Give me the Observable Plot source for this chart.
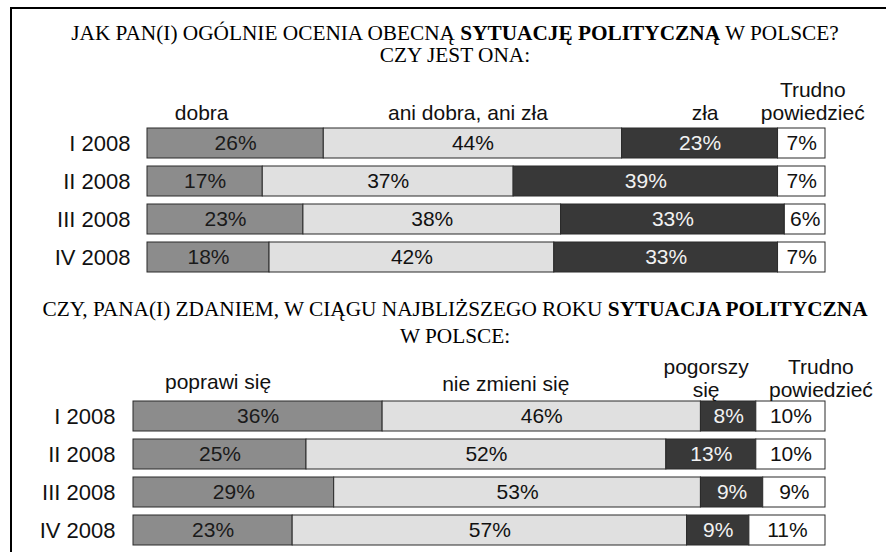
<!DOCTYPE html>
<html><head><meta charset="utf-8">
<script src="https://cdn.jsdelivr.net/npm/d3@7"></script>
<script src="https://cdn.jsdelivr.net/npm/@observablehq/plot@0.6"></script>
<style>
body{margin:0;background:#fff;}
#wrap{position:relative;width:886px;height:552px;overflow:hidden;background:#fff;}
#frame{position:absolute;left:10px;top:7px;width:900px;height:600px;border-left:2px solid #000;border-top:2px solid #000;}
.t{position:absolute;left:12px;width:886px;text-align:center;font-family:"Liberation Serif","Times New Roman",serif;font-size:21.3px;line-height:22px;color:#000;white-space:nowrap;}
.p{position:absolute;left:0;}
</style></head><body>
<div id="wrap">
  <div id="frame"></div>
  <div class="t" style="top:22px">JAK PAN(I) OGÓLNIE OCENIA OBECNĄ <b>SYTUACJĘ POLITYCZNĄ</b> W POLSCE?</div>
  <div class="t" style="top:44px">CZY JEST ONA:</div>
  <div class="p" id="c1" style="top:70px"></div>
  <div class="t" style="top:298px">CZY, PANA(I) ZDANIEM, W CIĄGU NAJBLIŻSZEGO ROKU <b>SYTUACJA POLITYCZNA</b></div>
  <div class="t" style="top:325px">W POLSCE:</div>
  <div class="p" id="c2" style="top:340px"></div>
</div>
<script>
const rows = ["I 2008", "II 2008", "III 2008", "IV 2008"];

const cats1 = ["dobra", "ani dobra, ani zła", "zła", "Trudno powiedzieć"];
const headers1 = ["dobra", "ani dobra, ani zła", "zła", "Trudno\npowiedzieć"];
const dobra = [26, 17, 23, 18];
const aniDobraAniZla = [44, 37, 38, 42];
const zla = [23, 39, 33, 33];
const trudno1 = [7, 7, 6, 7];

const cats2 = ["poprawi się", "nie zmieni się", "pogorszy się", "Trudno powiedzieć"];
const headers2 = ["poprawi się", "nie zmieni się", "pogorszy\nsię", "Trudno\npowiedzieć"];
const poprawi = [36, 25, 29, 23];
const nieZmieni = [46, 52, 53, 57];
const pogorszy = [8, 13, 9, 9];
const trudno2 = [10, 10, 9, 11];

const fills = ["#8c8c8c", "#e0e0e0", "#383838", "#ffffff"];
const textFills = ["#1a1a1a", "#111111", "#f2f2f2", "#111111"];

function chart(series, cats, headers, o) {
  const data = [];
  rows.forEach((r, i) => {
    let acc = 0;
    cats.forEach((c, j) => {
      const v = series[j][i];
      data.push({row: r, cat: c, j, value: v, x1: acc, x2: acc + v});
      acc += v;
    });
  });
  const first = data.filter(d => d.row === rows[0]);
  const marks = [
    Plot.barX(data, {x1: "x1", x2: "x2", y: "row", fill: "cat", stroke: "#2a2a2a", strokeWidth: 1}),
    Plot.axisY({tickSize: 0, tickPadding: o.tickPadding, fontSize: 22, label: null})
  ];
  cats.forEach((c, j) => {
    marks.push(Plot.text(data.filter(d => d.j === j), {
      x: d => (d.x1 + d.x2) / 2, y: "row", text: d => d.value + "%",
      fill: textFills[j], fontSize: 21
    }));
    marks.push(Plot.text([first[j]], {
      x: d => (d.x1 + d.x2) / 2, y: "row", text: () => headers[j],
      dx: o.hdx[j], dy: o.hdy[j], lineHeight: 1.1, fontSize: 21, fill: "#111"
    }));
  });
  return Plot.plot({
    width: 886, height: o.height,
    marginLeft: o.marginLeft, marginRight: 61, marginTop: o.marginTop, marginBottom: o.marginBottom,
    x: {domain: [0, 100], axis: null},
    y: {domain: rows, paddingInner: 0.21, paddingOuter: 0.105, axis: null},
    color: {domain: cats, range: fills},
    style: {fontFamily: "'Liberation Sans', Arial, sans-serif", fontSize: "21px", color: "#111", background: "transparent", overflow: "visible"},
    marks
  });
}

document.getElementById("c1").append(chart([dobra, aniDobraAniZla, zla, trudno1], cats1, headers1, {
  height: 210, marginTop: 54, marginBottom: 4, marginLeft: 147, tickPadding: 17,
  hdx: [-34, -5, 5, 11], hdy: [-30.7, -30.7, -30.7, -42.3]
}));
document.getElementById("c2").append(chart([poprawi, nieZmieni, pogorszy, trudno2], cats2, headers2, {
  height: 212, marginTop: 56, marginBottom: 1.6, marginLeft: 133, tickPadding: 18,
  hdx: [-40, -36, -22.5, 30], hdy: [-35, -33, -38.5, -38.5]
}));
</script>
</body></html>
